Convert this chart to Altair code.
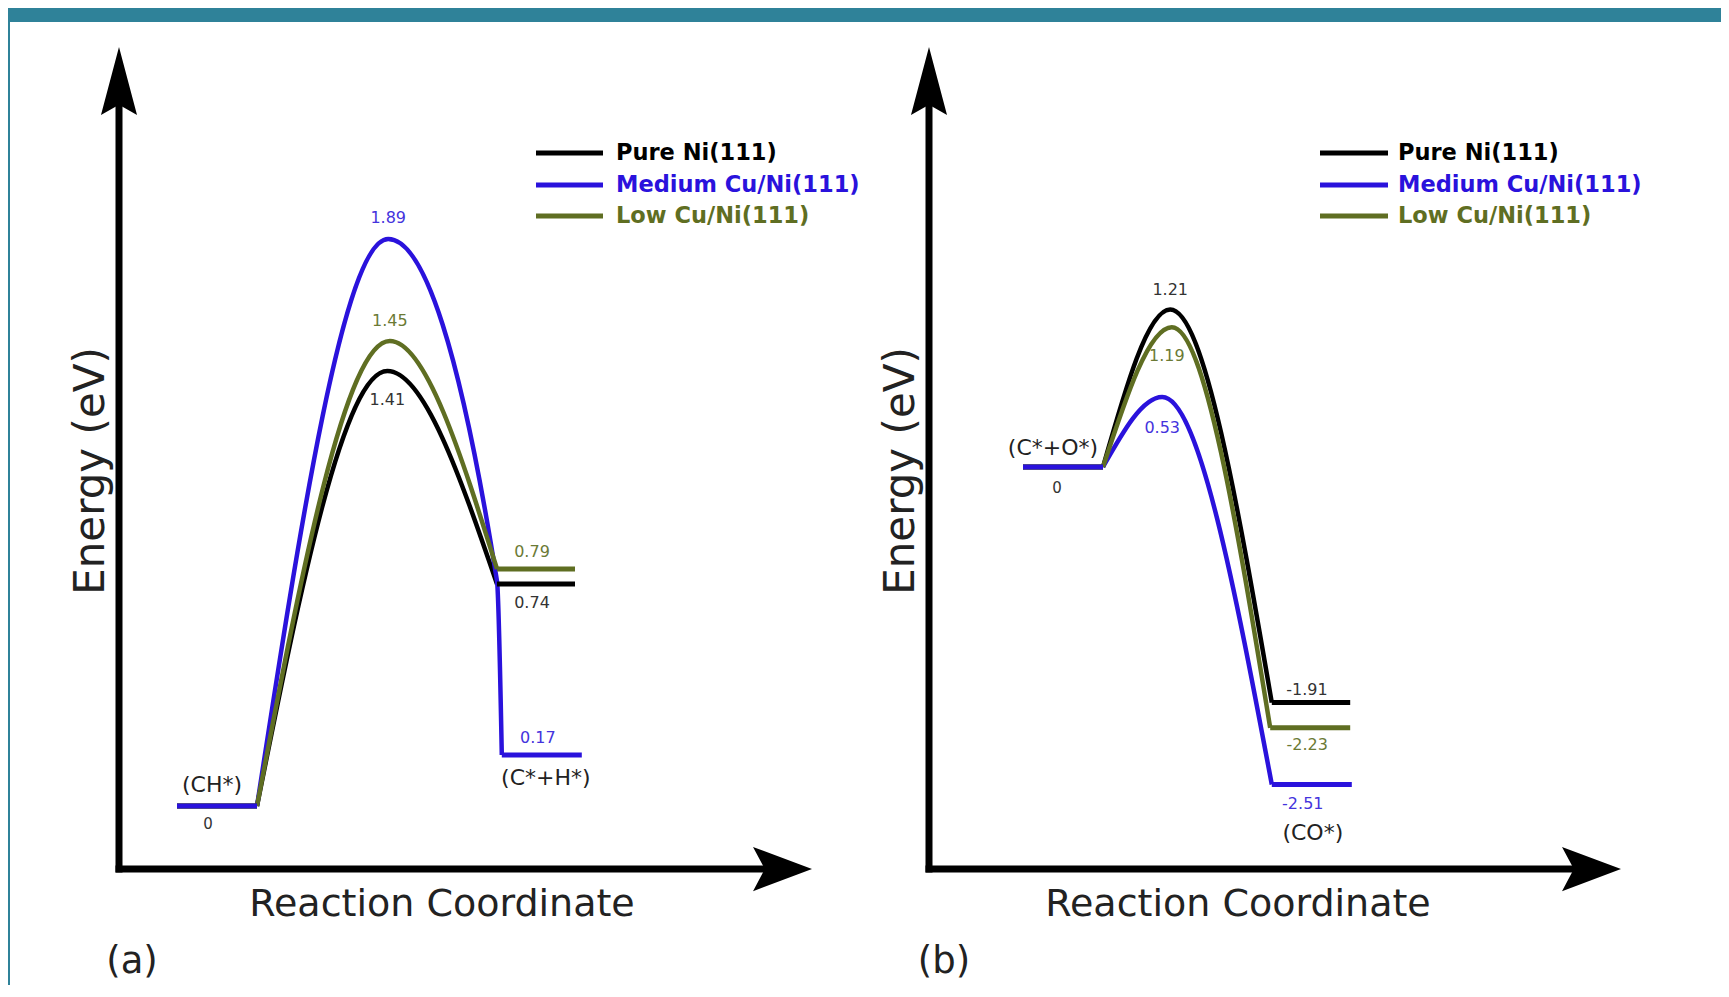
import altair as alt
import pandas as pd

# ---------------- data ----------------
SERIES = ["Pure Ni(111)", "Medium Cu/Ni(111)", "Low Cu/Ni(111)"]
COLORS = ["#000000", "#2a12dc", "#5f6e22"]
LABEL_COLORS = ["#333333", "#4433dd", "#6b7a35"]

# reaction-coordinate positions of the initial-state plateau
IS_X = [0.0, 1.0]
IS_E = 0.0

# Panel (a): CH* -> C* + H*
A_TS_X = [2.63, 2.64, 2.66]
A_TS_E = [1.45, 1.89, 1.55]          # barrier tops as drawn in the schematic
A_TS_LABEL = ["1.41", "1.89", "1.45"]
A_KNEE_X = [None, 4.0, None]         # blue curve passes the crossing, then drops
A_KNEE_E = [None, 0.75, None]
A_FS_X = [4.0, 4.06, 4.0]
A_FS_END = [4.975, 5.06, 4.975]
A_FS_E = [0.74, 0.17, 0.79]
A_FS_LABEL = ["0.74", "0.17", "0.79"]
A_STATES = ["(CH*)", "(C*+H*)"]

# Panel (b): C* + O* -> CO*
B_TS_X = [1.84, 1.74, 1.86]
B_TS_E = [1.25, 0.555, 1.11]
B_TS_LABEL = ["1.21", "0.53", "1.19"]
B_KNEE_X = [None, None, None]
B_KNEE_E = [None, None, None]
B_FS_X = [3.11, 3.11, 3.09]
B_FS_END = [4.09, 4.11, 4.09]
B_FS_E = [-1.87, -2.52, -2.07]
B_FS_LABEL = ["-1.91", "-2.51", "-2.23"]
B_STATES = ["(C*+O*)", "(CO*)"]

FONT = "DejaVu Sans"
TOP = 22
H = 963

# ---------------- layout / styles ----------------
PA = dict(left=10, width=855, x0=177, xu=80, e0=806, eu=300,
          yaxis=119, xaxis=869, ytip=47, xtip=812, ybase=115, xbase=753,
          ytitle=(91, 471), xtitle=(442, 905), tag=(132, 962), tagtxt="(a)",
          leg_line=(536, 603), leg_text=616,
          ts_dy=[29, -21, -20], ts_dx=[0, 0, 0],
          fs_dy=[19, -17, -17], fs_dx=[-4, -4, -4],
          is_lab=(-5, -21), zero_lab=(-9, 18), fs_state=(4, 23))
PB = dict(left=865, width=856, x0=1023, xu=80, e0=467, eu=126,
          yaxis=929, xaxis=869, ytip=47, xtip=1621, ybase=115, xbase=1562,
          ytitle=(901, 471), xtitle=(1238, 905), tag=(944, 962), tagtxt="(b)",
          leg_line=(1320, 1388), leg_text=1398,
          ts_dy=[-20, 31, 29], ts_dx=[0, 0, -5],
          fs_dy=[-13, 19, 17], fs_dx=[-4, -9, -3],
          is_lab=(-10, -19), zero_lab=(-6, 21), fs_state=(1, 48))
LEG_ROWS = [153, 185, 216]

UP_ARROW = "M0,-1L0.53,1L0,0.7L-0.53,1Z"
RIGHT_ARROW = "M1,0L-1,0.75L-0.6,0L-1,-0.75Z"


def panel(p, ts_x, ts_e, ts_lab, knee_x, knee_e, fs_x, fs_end, fs_e, fs_lab, states):
    xd = lambda px: (px - p["x0"]) / p["xu"]
    yd = lambda py: (p["e0"] - py) / p["eu"]
    xs = alt.Scale(domain=[xd(p["left"]), xd(p["left"] + p["width"])], nice=False, zero=False)
    ys = alt.Scale(domain=[yd(TOP + H), yd(TOP)], nice=False, zero=False)
    X = lambda f: alt.X(f, type="quantitative", scale=xs, axis=None)
    Y = lambda f: alt.Y(f, type="quantitative", scale=ys, axis=None)
    cscale = alt.Scale(domain=SERIES, range=COLORS)
    layers = []

    # axes with arrowheads
    layers.append(alt.Chart(pd.DataFrame([{"x": xd(p["yaxis"]), "y": yd(p["xaxis"] + 3.5), "y2": yd(p["ybase"] - 15)}]))
                  .mark_rule(strokeWidth=7, color="black")
                  .encode(x=X("x"), y=Y("y"), y2="y2"))
    layers.append(alt.Chart(pd.DataFrame([{"x": xd(p["yaxis"] - 3.5), "x2": xd(p["xbase"] + 15), "y": yd(p["xaxis"])}]))
                  .mark_rule(strokeWidth=7, color="black")
                  .encode(x=X("x"), x2="x2", y=Y("y")))
    ylen = p["ybase"] - p["ytip"]
    layers.append(alt.Chart(pd.DataFrame([{"x": xd(p["yaxis"]), "y": yd((p["ybase"] + p["ytip"]) / 2)}]))
                  .mark_point(shape=UP_ARROW, size=ylen * ylen, filled=True, color="black", opacity=1, strokeWidth=0)
                  .encode(x=X("x"), y=Y("y")))
    xlen = p["xtip"] - p["xbase"]
    layers.append(alt.Chart(pd.DataFrame([{"x": xd((p["xbase"] + p["xtip"]) / 2), "y": yd(p["xaxis"])}]))
                  .mark_point(shape=RIGHT_ARROW, size=xlen * xlen, filled=True, color="black", opacity=1, strokeWidth=0)
                  .encode(x=X("x"), y=Y("y")))

    # barrier curves
    rows = []
    for i, s in enumerate(SERIES):
        rows.append({"series": s, "x": IS_X[1], "e": IS_E})
        rows.append({"series": s, "x": ts_x[i], "e": ts_e[i]})
        if knee_x[i] is not None:
            rows.append({"series": s, "x": knee_x[i], "e": knee_e[i]})
        rows.append({"series": s, "x": fs_x[i], "e": fs_e[i]})
    layers.append(alt.Chart(pd.DataFrame(rows))
                  .mark_line(interpolate="monotone", strokeWidth=4.5)
                  .encode(x=X("x"), y=Y("e"), color=alt.Color("series:N", scale=cscale, legend=None),
                          order="x:Q"))

    # state plateaus (blue drawn last)
    prow = []
    for i in [0, 2, 1]:
        prow.append({"series": SERIES[i], "x": IS_X[0], "x2": IS_X[1], "e": IS_E})
    for i in [0, 2, 1]:
        prow.append({"series": SERIES[i], "x": fs_x[i], "x2": fs_end[i], "e": fs_e[i]})
    layers.append(alt.Chart(pd.DataFrame(prow))
                  .mark_rule(strokeWidth=5)
                  .encode(x=X("x"), x2="x2", y=Y("e"),
                          color=alt.Color("series:N", scale=cscale, legend=None)))

    def txt(t, x, e, color, size, dx=0, dy=0, **kw):
        return (alt.Chart(pd.DataFrame([{"x": x, "e": e, "t": t}]))
                .mark_text(font=FONT, fontSize=size, color=color, dx=dx, dy=dy,
                           align="center", baseline="middle", **kw)
                .encode(x=X("x"), y=Y("e"), text="t:N"))

    # energy labels
    for i in range(3):
        layers.append(txt(ts_lab[i], ts_x[i], ts_e[i], LABEL_COLORS[i], 16, p["ts_dx"][i], p["ts_dy"][i]))
        mid = (fs_x[i] + fs_end[i]) / 2
        layers.append(txt(fs_lab[i], mid, fs_e[i], LABEL_COLORS[i], 16, p["fs_dx"][i], p["fs_dy"][i]))
    is_mid = (IS_X[0] + IS_X[1]) / 2
    layers.append(txt(states[0], is_mid, IS_E, "#222222", 22, *p["is_lab"]))
    layers.append(txt("0", is_mid, IS_E, "#333333", 15, *p["zero_lab"]))
    bmid = (fs_x[1] + fs_end[1]) / 2
    layers.append(txt(states[1], bmid, fs_e[1], "#222222", 22, *p["fs_state"]))

    # legend
    lrows = [{"series": s, "x": xd(p["leg_line"][0]), "x2": xd(p["leg_line"][1]), "e": yd(LEG_ROWS[i])}
             for i, s in enumerate(SERIES)]
    layers.append(alt.Chart(pd.DataFrame(lrows))
                  .mark_rule(strokeWidth=5)
                  .encode(x=X("x"), x2="x2", y=Y("e"),
                          color=alt.Color("series:N", scale=cscale, legend=None)))
    for i, s in enumerate(SERIES):
        layers.append(alt.Chart(pd.DataFrame([{"x": xd(p["leg_text"]), "e": yd(LEG_ROWS[i]), "t": s}]))
                      .mark_text(font=FONT, fontSize=22.5, fontWeight="bold", color=COLORS[i],
                                 align="left", baseline="middle")
                      .encode(x=X("x"), y=Y("e"), text="t:N"))

    # titles
    layers.append(txt("Energy (eV)", xd(p["ytitle"][0]), yd(p["ytitle"][1]), "#222222", 42, angle=270))
    layers.append(txt("Reaction Coordinate", xd(p["xtitle"][0]), yd(p["xtitle"][1]), "#222222", 38))
    layers.append(txt(p["tagtxt"], xd(p["tag"][0]), yd(p["tag"][1]), "#222222", 37))

    return alt.layer(*layers).properties(width=p["width"], height=H)


chart_a = panel(PA, A_TS_X, A_TS_E, A_TS_LABEL, A_KNEE_X, A_KNEE_E, A_FS_X, A_FS_END, A_FS_E, A_FS_LABEL, A_STATES)
chart_b = panel(PB, B_TS_X, B_TS_E, B_TS_LABEL, B_KNEE_X, B_KNEE_E, B_FS_X, B_FS_END, B_FS_E, B_FS_LABEL, B_STATES)

chart = (alt.hconcat(chart_a, chart_b, spacing=0)
         .properties(padding={"left": 2, "top": 14, "right": 0, "bottom": 0}, background="#2f8299")
         .configure_view(fill="white", stroke="transparent", strokeWidth=0))

chart.save("out.html", embed_options={"renderer": "svg", "actions": False})
